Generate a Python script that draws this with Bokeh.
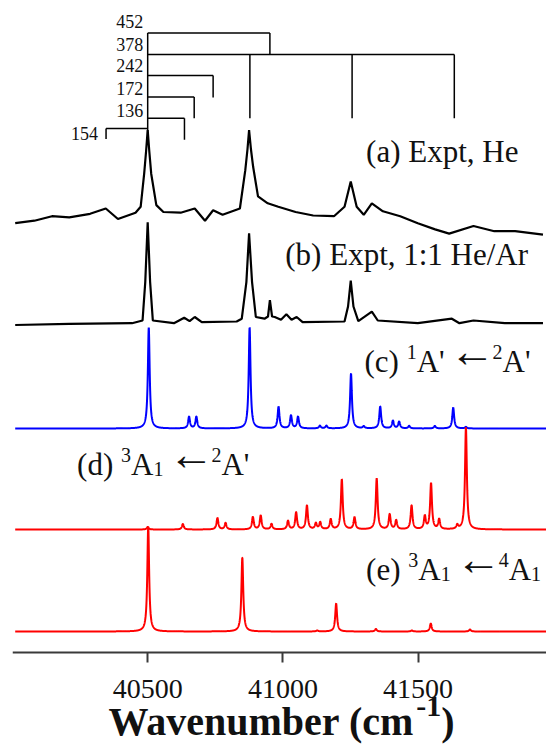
import numpy as np
from bokeh.plotting import figure
from bokeh.models import Range1d, FixedTicker, Label, LinearAxis
from bokeh.embed import file_html
from bokeh.resources import INLINE

# ---------------- data ----------------
# (a) Expt, He : wavenumber / intensity (arb. units, above its baseline)
a_wn = [40010, 40081, 40146, 40210, 40287, 40345, 40390, 40455, 40474, 40487, 40494,
        40500, 40506, 40513, 40532, 40558, 40622, 40674, 40712, 40742, 40777, 40841,
        40861, 40869, 40875, 40882, 40890, 40908, 40944, 40983, 41047, 41112, 41189,
        41228, 41251, 41273, 41299, 41329, 41370, 41434, 41499, 41563, 41615, 41705,
        41782, 41859, 41962]
a_int = [0.3, 2.8, 7.3, 6.2, 9.7, 15, 4.5, 10.8, 16.7, 49.8, 72,
         93.3, 72, 49.8, 18.4, 11.5, 10.8, 15, 2.8, 13.2, 8.7, 15,
         53.3, 74, 93.3, 74, 56.7, 27.1, 20.2, 16.7, 11.5, 8, 7.3,
         16.7, 42.1, 16.7, 8.7, 20.2, 12.2, 7.3, 0.3, -5.9, -10.1, -2.5,
         -7.7, -7.7, -11.2]

# (b) Expt, 1:1 He/Ar
b_wn = [40010, 40210, 40442, 40481, 40491, 40500, 40509, 40519, 40597, 40635, 40655,
        40674, 40700, 40829, 40848, 40865, 40875, 40886, 40900, 40932, 40945, 40952,
        40960, 40970, 40993, 41013, 41032, 41051, 41073, 41228, 41241, 41251, 41261,
        41279, 41329, 41351, 41499, 41625, 41653, 41705, 41821, 41962]
b_int = [-0.5, 0.6, 1.3, 4, 42.4, 102.3, 42.4, 4, 1.3, 6.8, 3.4,
         7.5, 2.3, 3, 5.8, 42.4, 91.1, 42.4, 7.5, 5.8, 8, 24.3,
         8, 7.5, 4.8, 10.3, 4.8, 7.5, 2.3, 3, 18, 43.8, 18,
         3.4, 12.8, 4, 1.3, 5.8, 1.3, 4, 1.3, 1.3]

# (c) simulated 1A' <- 2A' : band positions / intensities
c_pos = [40504, 40653, 40680, 40877, 40984, 41030, 41056, 41137, 41161, 41252,
         41299, 41360, 41407, 41430, 41467, 41562, 41630, 41677]
c_int = [101, 11.7, 11.7, 101, 21.7, 13, 11.7, 2.7, 2.7, 55,
         2, 22, 7.7, 6.7, 2.5, 2.5, 21, 1.5]

# (d) simulated 3A1 <- 2A'
d_pos = [40500, 40630, 40758, 40788, 40889, 40918, 40958, 41019, 41049, 41089, 41122,
         41138, 41177, 41218, 41265, 41347, 41395, 41419, 41476, 41525, 41548, 41578,
         41645, 41677]
d_int = [2.5, 5.5, 11.5, 6.5, 12.5, 14, 5.5, 8.5, 17, 24, 6,
         7, 10, 50, 12, 51, 15, 9, 24, 13, 46, 10,
         4, 102]

# (e) simulated 3A1 <- 4A1
e_pos = [40502, 40850, 41127, 41197, 41344, 41477, 41547, 41692]
e_int = [105, 74, 1, 28, 2.5, 1, 8, 2]

# progression assignments (cm-1 above / below origin band)
origin_band = 40500
prog_values = [452, 378, 242, 172, 136, 154]
prog_labels = ["452", "378", "242", "172", "136", "154"]

tick_values = [40500, 41000, 41500]

# ---------------- layout ----------------
X0, X1 = 40000, 41975
LEFT, TOP, W, H = 12, 8, 546, 754
FW = W - LEFT
PXX = FW / (X1 - X0)
AXIS_PX = 652

def px2w(xpx):
    return X0 + (xpx - LEFT) / PXX

def py(ypx):
    return AXIS_PX - ypx

SERIF = "Liberation Serif"

p = figure(width=W, height=H, x_range=Range1d(X0, X1),
           y_range=Range1d(py(H), py(TOP)),
           output_backend="svg", toolbar_location=None,
           x_axis_location=None, y_axis_location=None,
           min_border_left=LEFT, min_border_right=0, min_border_top=TOP, min_border_bottom=0)
p.outline_line_color = None
p.xgrid.visible = False
p.ygrid.visible = False
p.background_fill_color = "white"
p.border_fill_color = "white"

ax = LinearAxis(fixed_location=py(AXIS_PX), ticker=FixedTicker(ticks=tick_values))
ax.axis_line_color = "#3a3a3a"
ax.axis_line_width = 2
ax.major_tick_line_color = "#3a3a3a"
ax.major_tick_line_width = 2
ax.major_tick_out = 10
ax.major_tick_in = 0
ax.minor_tick_line_color = None
ax.major_label_text_font = SERIF
ax.major_label_text_font_size = "28px"
ax.major_label_text_color = "#111111"
ax.major_label_standoff = 17
p.add_layout(ax, "below")

# ---------------- spectra ----------------
offsets = {"a": py(223), "b": py(324), "c": py(428), "d": py(529), "e": py(631)}

p.line(np.array(a_wn), offsets["a"] + np.array(a_int), line_color="black", line_width=2.2)
p.line(np.array(b_wn), offsets["b"] + np.array(b_int), line_color="black", line_width=2.2)

grid = np.linspace(40010, X1, 4000)
FWHM = 8.0

def profile(pos, inten):
    y = np.zeros_like(grid)
    for x0, h in zip(pos, inten):
        y += h / (1.0 + ((grid - x0) / (FWHM / 2.0)) ** 2)
    return y

p.line(grid, offsets["c"] + profile(c_pos, c_int), line_color="#0000ff", line_width=2)
p.line(grid, offsets["d"] + profile(d_pos, d_int), line_color="#ff0000", line_width=2)
p.line(grid, offsets["e"] + profile(e_pos, e_int), line_color="#ff0000", line_width=2)

# ---------------- progression brackets ----------------
lvl = {452: 32.4, 378: 54, 242: 75, 172: 96.5, 136: 117.7}
drop = {452: 54, 378: 117.7, 242: 97, 172: 117.7, 136: 139.3}
x0s, y0s, x1s, y1s = [], [], [], []
x0s.append(origin_band); y0s.append(py(32.4)); x1s.append(origin_band); y1s.append(py(137.5))
for v in prog_values[:5]:
    n_max = 3 if v == 378 else 1
    x0s.append(origin_band); y0s.append(py(lvl[v]))
    x1s.append(origin_band + n_max * v); y1s.append(py(lvl[v]))
    for n in range(1, n_max + 1):
        x0s.append(origin_band + n * v); y0s.append(py(lvl[v]))
        x1s.append(origin_band + n * v); y1s.append(py(drop[v]))
hb = prog_values[5]
x0s.append(origin_band - hb); y0s.append(py(128)); x1s.append(origin_band); y1s.append(py(128))
x0s.append(origin_band - hb); y0s.append(py(128)); x1s.append(origin_band - hb); y1s.append(py(138.6))
p.segment(x0=x0s, y0=y0s, x1=x1s, y1=y1s, line_color="black", line_width=1.5)

lab_y = [21, 43.5, 65, 88, 110, 133]
for i, t in enumerate(prog_labels):
    xr = 142.8 if i < 5 else 97.5
    p.add_layout(Label(x=px2w(xr), y=py(lab_y[i]), text=t, text_font=SERIF,
                       text_font_size="18px", text_align="right", text_baseline="middle",
                       text_color="#111111"))

# ---------------- rich text labels ----------------
REG = {' ': 250, '(': 333, ')': 333, 'a': 444, 'b': 500, 'c': 444, 'd': 500, 'e': 444,
       'E': 611, 'x': 500, 'p': 500, 't': 278, ',': 250, 'H': 722, '1': 500, '2': 500,
       '3': 500, '4': 500, ':': 278, '/': 278, 'A': 722, 'r': 333, "'": 180}
BOLD = {'W': 1000, 'a': 500, 'v': 500, 'e': 444, 'n': 556, 'u': 556, 'm': 833, 'b': 556,
        'r': 444, ' ': 250, '(': 333, 'c': 444, ')': 333, '-': 333, '1': 500}

ARROW = "ARROW"

def rich(x_px, base_px, parts, bold=False):
    table = BOLD if bold else REG
    x = x_px
    for text, size, dy in parts:
        if text == ARROW:
            gap0, length, gap1 = 12, 32, 4
            p.add_layout(Label(x=px2w(x + gap0 + length / 2.0), y=py(base_px - 10),
                               text="\u2190", text_font=SERIF, text_font_size="46px",
                               text_align="center", text_baseline="middle",
                               text_color="#111111"))
            x += gap0 + length + gap1
            continue
        if text.strip():
            p.add_layout(Label(x=px2w(x), y=py(base_px - dy), text=text, text_font=SERIF,
                               text_font_size=f"{size}px", text_align="left",
                               text_baseline="alphabetic", text_color="#111111",
                               text_font_style="bold" if bold else "normal"))
        x += sum(table.get(ch, 500) for ch in text) / 1000.0 * size

M, S = 31, 20
rich(365.6, 151, [("(a) Expt, He", M, 0)])
rich(284.8, 254, [("(b) Expt, 1:1 He/Ar", M, 0)])
rich(364, 361, [("(c)", M, 0), (" ", M, 0), ("1", S, 10), ("A'", M, 0),
                (ARROW, 0, 0), ("2", S, 10), ("A'", M, 0)])
rich(76.6, 464, [("(d)", M, 0), (" ", M, 0), ("3", S, 10), ("A", M, 0), ("1", S, -4),
                 (ARROW, 0, 0), ("2", S, 10), ("A'", M, 0)])
rich(365.6, 569, [("(e)", M, 0), (" ", M, 0), ("3", S, 10), ("A", M, 0), ("1", S, -4),
                  (ARROW, 0, 0), ("4", S, 10), ("A", M, 0), ("1", S, -4)])

rich(108, 721, [("Wavenumber (cm", 40, 0), ("-1", 30, 15), (")", 40, 0)], bold=True)

open("out.html", "w").write(file_html(p, INLINE))
